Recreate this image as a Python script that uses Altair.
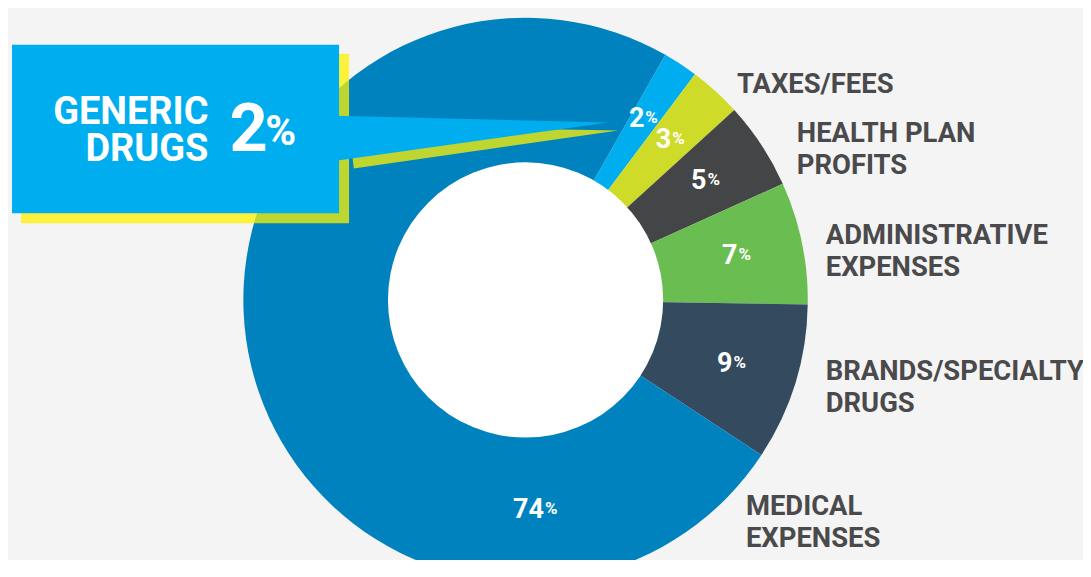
import math
import altair as alt
import pandas as pd

# ---------------- data ----------------
categories = ["Generic Drugs", "Taxes/Fees", "Health Plan Profits",
              "Administrative Expenses", "Brands/Specialty Drugs", "Medical Expenses"]
values = [2, 3, 5, 7, 9, 74]
label_lines = [["GENERIC", "DRUGS"], ["TAXES/FEES"], ["HEALTH PLAN", "PROFITS"],
               ["ADMINISTRATIVE", "EXPENSES"], ["BRANDS/SPECIALTY", "DRUGS"],
               ["MEDICAL", "EXPENSES"]]
colors = ["#00AEEF", "#CEDB28", "#444547", "#6ABD51", "#344A5F", "#0082BF"]

# ---------------- layout ----------------
W, H = 1078, 552
CX, CY = 519, 292
R_OUT, R_IN = 283, 138
OFFSET = math.radians(29.7)          # start angle of the first slice
LABEL_R = 217
# outside label anchors (x, first baseline) for categories 1..5
label_pos = {1: (731, 84), 2: (791, 134), 3: (820, 236), 4: (820, 372), 5: (740, 508)}
LINE_H = 32
FONT = "Roboto"
TEXT_GREY = "#4A4A4C"

df = pd.DataFrame({"cat": categories, "value": values, "idx": list(range(len(values)))})
total = sum(values)

# percent label positions from the slice mid-angles
rows = []
cum = 0
for i, (c, v) in enumerate(zip(categories, values)):
    ang = OFFSET + 2 * math.pi * (cum + v / 2) / total
    r = LABEL_R
    if i == len(values) - 1:         # big slice: label placed at the bottom
        ang = math.radians(175)
        r = 211
    rows.append({"cat": c, "num": str(v), "pct": "%",
                 "lx": CX + r * math.sin(ang), "ly": CY - r * math.cos(ang)})
    cum += v
pct_df = pd.DataFrame(rows)

lab_rows = []
for i, lines in enumerate(label_lines):
    if i not in label_pos:
        continue
    x0, y0 = label_pos[i]
    for j, t in enumerate(lines):
        lab_rows.append({"t": t, "x": x0, "y": y0 + j * LINE_H})
lab_df = pd.DataFrame(lab_rows)

one = pd.DataFrame({"k": [0]})

color_scale = alt.Scale(domain=categories, range=colors)

pie = alt.Chart(df).mark_arc(outerRadius=R_OUT, innerRadius=0).encode(
    theta=alt.Theta("value:Q", stack=True,
                    scale=alt.Scale(range=[OFFSET, OFFSET + 2 * math.pi])),
    order=alt.Order("idx:Q"),
    color=alt.Color("cat:N", scale=color_scale, legend=None),
    x=alt.value(CX), y=alt.value(CY),
)

hole = alt.Chart(one).mark_arc(theta=0, theta2=2 * math.pi, outerRadius=R_IN,
                               innerRadius=0, color="#FFFFFF").encode(
    x=alt.value(CX), y=alt.value(CY))

num_txt = alt.Chart(pct_df).mark_text(align="right", baseline="middle", font=FONT,
                                      fontWeight="bold", fontSize=27, color="white").encode(
    x=alt.X("lx:Q", scale=None), y=alt.Y("ly:Q", scale=None), text="num:N")
pct_txt = alt.Chart(pct_df).mark_text(align="left", baseline="middle", font=FONT,
                                      fontWeight="bold", fontSize=17, color="white", dx=1, dy=-1).encode(
    x=alt.X("lx:Q", scale=None), y=alt.Y("ly:Q", scale=None), text="pct:N")

# callout box with shadow and pointer
shadow_rect = alt.Chart(one).mark_rect(color="#FFF200", opacity=0.75).encode(
    x=alt.value(13), x2=alt.value(342), y=alt.value(45), y2=alt.value(215))
shadow_wedge = alt.Chart(one).mark_arc(theta=math.radians(261.8), theta2=math.radians(271),
                                       outerRadius=268, innerRadius=0,
                                       color="#FFF200", opacity=0.75).encode(
    x=alt.value(612), y=alt.value(122))
box_rect = alt.Chart(one).mark_rect(color="#00AEEF").encode(
    x=alt.value(4), x2=alt.value(332), y=alt.value(36), y2=alt.value(205))
box_wedge = alt.Chart(one).mark_arc(theta=math.radians(262), theta2=math.radians(271.4),
                                    outerRadius=285, innerRadius=0,
                                    color="#00AEEF").encode(
    x=alt.value(602), y=alt.value(114))

callout_lines = pd.DataFrame({"t": label_lines[0], "y": [116, 153]})
callout_name = alt.Chart(callout_lines).mark_text(align="right", baseline="alphabetic",
                                                  font=FONT, fontWeight="bold", fontSize=38,
                                                  color="white").encode(
    x=alt.value(201), y=alt.Y("y:Q", scale=None), text="t:N")
callout_num = alt.Chart(pct_df.iloc[[0]]).mark_text(align="left", baseline="alphabetic",
                                                    font=FONT, fontWeight="bold", fontSize=67,
                                                    color="white").encode(
    x=alt.value(222), y=alt.value(143), text="num:N")
callout_pct = alt.Chart(pct_df.iloc[[0]]).mark_text(align="left", baseline="alphabetic",
                                                    font=FONT, fontWeight="bold", fontSize=42,
                                                    color="white").encode(
    x=alt.value(258), y=alt.value(137), text="pct:N")

labels = alt.Chart(lab_df).mark_text(align="left", baseline="alphabetic", font=FONT,
                                     fontWeight="bold", fontSize=27.5, color=TEXT_GREY).encode(
    x=alt.X("x:Q", scale=None), y=alt.Y("y:Q", scale=None), text="t:N")

chart = alt.layer(
    pie, hole, num_txt, pct_txt,
    shadow_rect, shadow_wedge, box_rect, box_wedge,
    callout_name, callout_num, callout_pct, labels,
).properties(
    width=W, height=H, background="#F4F4F4", padding=0,
    autosize=alt.AutoSizeParams(type="none"),
).configure_view(stroke=None)

chart.save("out.html", embed_options={"renderer": "svg", "actions": False})
